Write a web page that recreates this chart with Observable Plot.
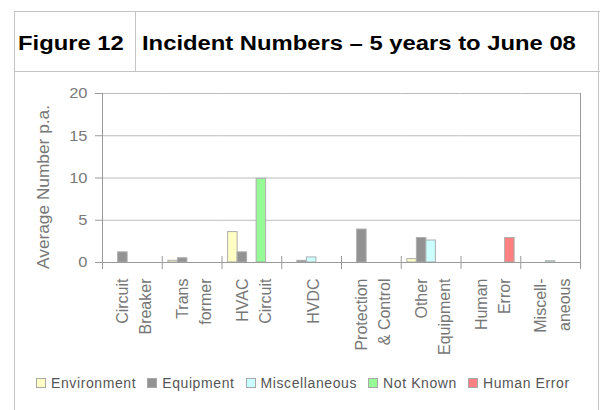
<!DOCTYPE html>
<html><head><meta charset="utf-8">
<script src="https://cdn.jsdelivr.net/npm/d3@7"></script>
<script src="https://cdn.jsdelivr.net/npm/@observablehq/plot@0.6"></script>
<style>
html,body{margin:0;padding:0;background:#fff;}
body{width:602px;height:410px;position:relative;overflow:hidden;font-family:"Liberation Sans",Arial,sans-serif;}
.b{position:absolute;background:#c4c4c4;}
.hd{position:absolute;top:32.9px;font-weight:bold;font-size:20px;color:#000;line-height:1;white-space:nowrap;transform:scaleX(1.19);transform-origin:0 0;}
#chart{position:absolute;left:15px;top:71px;}
#legend{position:absolute;left:36px;top:375px;height:16px;display:flex;align-items:center;font-size:14px;letter-spacing:0.6px;color:#555;white-space:nowrap;}
.item{display:flex;align-items:center;margin-right:11px;}
.sw{display:inline-block;width:8px;height:8px;border:1px solid #a8a8a8;margin-right:5px;}
</style></head>
<body>
<div class="b" style="left:13.5px;top:10.5px;width:586px;height:1.5px"></div>
<div class="b" style="left:13.5px;top:70.5px;width:586px;height:1.5px"></div>
<div class="b" style="left:13.5px;top:10.5px;width:1.5px;height:400px"></div>
<div class="b" style="left:597.5px;top:10.5px;width:1.5px;height:400px"></div>
<div class="b" style="left:134.5px;top:10.5px;width:1.5px;height:61px"></div>
<div class="hd" id="fig" style="left:18px"></div>
<div class="hd" id="title" style="left:142px"></div>
<div id="chart"></div>
<div id="legend"></div>
<script>
const figureLabel = "Figure 12";
const titleText = "Incident Numbers – 5 years to June 08";
const yTitle = "Average Number p.a.";
const categories = ["Circuit\nBreaker","Trans\nformer","HVAC\nCircuit","HVDC","Protection\n& Control","Other\nEquipment","Human\nError","Miscell-\naneous"];
const seriesNames = ["Environment","Equipment","Miscellaneous","Not Known","Human Error"];
const seriesColors = ["#ffffc4","#929292","#ccffff","#96fa96","#ff8080"];
const environment   = [0, 0.2, 3.6, 0,   0,   0.4, 0,   0];
const equipment     = [1.2, 0.5, 1.2, 0.2, 3.9, 2.9, 0,   0];
const miscellaneous = [0, 0,   0,   0.6, 0,   2.6, 0,   0.15];
const notKnown      = [0, 0,   9.9, 0,   0,   0,   0,   0];
const humanError    = [0, 0,   0,   0,   0,   0,   2.9, 0];
const yTicks = [0, 5, 10, 15, 20];

document.getElementById("fig").textContent = figureLabel;
document.getElementById("title").textContent = titleText;

const seriesValues = [environment, equipment, miscellaneous, notKnown, humanError];
const rows = [];
seriesNames.forEach((s, si) => categories.forEach((c, ci) => {
  const v = seriesValues[si][ci];
  if (v > 0) rows.push({cat: c, series: s, value: v});
}));

const axisColor = "#9a9a9a";
const chart = Plot.plot({
  width: 582, height: 290,
  marginLeft: 87, marginRight: 17, marginTop: 22, marginBottom: 99,
  style: {fontFamily: "Liberation Sans, Arial, sans-serif", background: "transparent", overflow: "visible"},
  fx: {domain: categories, padding: 0, round: false, axis: null, label: null},
  x: {domain: seriesNames, paddingInner: 0, paddingOuter: 0.645, round: false, axis: null},
  y: {domain: [yTicks[0], yTicks[yTicks.length - 1]], axis: null},
  color: {domain: seriesNames, range: seriesColors},
  marks: [
    Plot.gridY({ticks: yTicks, stroke: "#bcbcbc", strokeOpacity: 1}),
    Plot.barY(rows, {fx: "cat", x: "series", y: "value", fill: "series", stroke: "#adadad", strokeWidth: 1}),
    Plot.ruleY([0], {stroke: axisColor}),
    Plot.frame({anchor: "left", facetAnchor: "left", stroke: axisColor, insetBottom: -6}),
    Plot.frame({anchor: "right", facetAnchor: "right", stroke: axisColor, insetBottom: -6}),
    Plot.frame({anchor: "left", stroke: axisColor, insetTop: 163, insetBottom: -6}),
    Plot.axisY({ticks: yTicks, tickSize: 7, tickPadding: 8, fontSize: 15, stroke: axisColor, fill: "#7a7a7a", label: null}),
    Plot.text([yTitle], {text: d => d, frameAnchor: "left", rotate: -90, textAnchor: "middle", lineAnchor: "middle", dx: -59, dy: 9, fontSize: 17.3, fill: "#777", facetAnchor: "left", ariaLabel: "y-title"}),
    Plot.text(categories, {fx: d => d, text: d => d, frameAnchor: "bottom", rotate: -90, textAnchor: "end", lineAnchor: "middle", lineHeight: 1.45, dy: 16, fontSize: 16, fill: "#777", ariaLabel: "x-labels"})
  ]
});
document.getElementById("chart").appendChild(chart);

// widen glyphs along their own baseline, like the reference rendering
function stretch(selector, k) {
  d3.select(chart).selectAll(selector).each(function() {
    const t = this.getAttribute("transform") || "";
    this.setAttribute("transform", `${t} scale(${k},1)`);
    const x = this.getAttribute("x");
    if (x !== null && isFinite(+x)) this.setAttribute("x", +x / k);
  });
}
stretch('g[aria-label="x-labels"] text', 1.07);
stretch('g[aria-label="y-axis tick label"] text', 1.1);

const legend = d3.select("#legend");
seriesNames.forEach((s, i) => {
  const it = legend.append("div").attr("class", "item");
  it.append("span").attr("class", "sw").style("background", seriesColors[i]);
  it.append("span").text(s);
});
</script>
</body></html>
